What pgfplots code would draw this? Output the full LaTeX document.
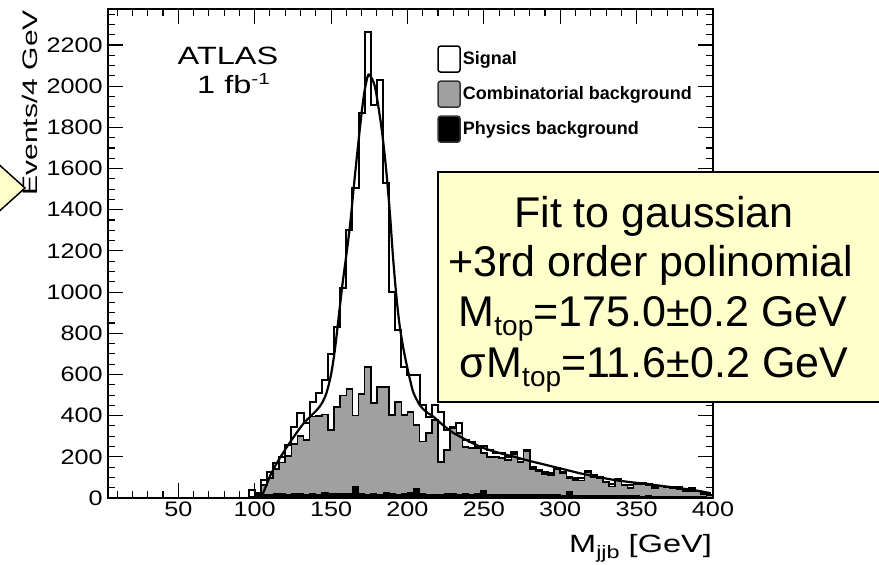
\documentclass[border=0pt]{standalone}
\usepackage{pgfplots}
\pgfplotsset{compat=1.18}
\usepackage{pgfplotstable}
\usepackage{fontspec}
\setmainfont{Liberation Sans}
\definecolor{histgray}{RGB}{160,160,160}
\definecolor{boxyellow}{RGB}{255,255,204}

\pgfplotstableread{
x T G P
92 0 0 0
96 39 8 3
100 25 15 5
104 87 62 15
108 128 98 18
112 170 140 20
116 200 172 22
120 257 205 18
124 346 262 20
128 412 300 22
132 364 282 15
136 468 395 20
140 509 398 18
144 573 405 25
148 700 330 20
152 832 443 20
156 1020 497 22
160 1302 529 20
164 1505 400 55
168 1870 505 20
172 2265 636 18
176 1909 461 20
180 2030 540 15
184 1530 538 25
188 1000 403 20
192 816 466 18
196 638 403 20
200 597 419 25
204 597 354 45
208 452 274 20
212 395 316 18
216 452 379 15
220 419 176 15
224 330 233 20
228 345 340 22
232 366 316 18
236 282 249 20
240 274 243 18
244 249 243 20
248 252 220 35
252 233 200 18
256 218 200 15
260 218 195 15
264 200 184 15
268 225 215 18
272 190 175 15
276 235 225 15
280 152 140 18
284 136 130 15
288 128 118 15
292 120 112 15
296 146 140 15
300 128 120 12
304 104 96 30
308 96 88 12
312 96 85 10
316 131 125 12
320 112 100 10
324 104 98 12
328 79 75 10
332 68 55 10
336 91 85 12
340 63 60 10
344 63 50 10
348 71 68 10
352 71 65 8
356 68 62 10
360 58 50 8
364 58 55 8
368 55 52 8
372 52 48 8
376 52 45 8
380 39 35 8
384 47 32 6
388 36 33 6
392 23 20 5
396 15 12 4
400 15 12 4
}\histdata

\begin{document}
\begin{tikzpicture}
\path[use as bounding box] (0,0) rectangle (879bp,565bp);
\begin{axis}[
  at={(108bp,67bp)}, anchor=south west,
  scale only axis, width=605bp, height=489bp,
  xmin=4, xmax=400, ymin=0, ymax=2375,
  xtick={50,100,...,400}, ytick={0,200,...,2200},
  minor xtick={10,20,...,390}, minor ytick={50,100,...,2350},
  tick align=inside, major tick length=15bp, minor tick length=7bp,
  every tick/.style={black, line width=1.1bp},
  axis line style={line width=1.4bp},
  tick label style={font=\fontsize{21bp}{22bp}\selectfont, xscale=1.2},
  yticklabel style={xshift=-1bp},
  /pgf/number format/assume math mode=true,
  /pgf/number format/1000 sep={},
  legend style={at={(rel axis cs:0.544,0.926)}, anchor=north west, draw=none, fill=none,
    inner sep=0pt, row sep=7.5bp, font=\fontsize{18bp}{20bp}\selectfont\bfseries,
    cells={anchor=west}},
]
\addplot[const plot, fill=white, draw=black, line width=2bp,
  legend image code/.code={\draw[line width=1.5bp, rounded corners=2.5bp, fill=white, draw=black] (0bp,-13bp) rectangle (22bp,13bp);}]
  table[x=x,y=T]{\histdata} \closedcycle;
\addlegendentry{Signal}
\addplot[const plot, fill=histgray, draw=black, line width=1.6bp,
  legend image code/.code={\draw[line width=1.5bp, rounded corners=2.5bp, fill=histgray, draw=black!80] (0bp,-13bp) rectangle (22bp,13bp);}]
  table[x=x,y=G]{\histdata} \closedcycle;
\addlegendentry{Combinatorial background}
\addplot[const plot, fill=black, draw=black, line width=1bp,
  legend image code/.code={\draw[line width=1.5bp, rounded corners=2.5bp, fill=black, draw=black!80] (0bp,-13bp) rectangle (22bp,13bp);}]
  table[x=x,y=P]{\histdata} \closedcycle;
\addlegendentry{Physics background}
\addplot[smooth, black, line width=2.2bp, forget plot] coordinates {
(104.5,5) (107,50) (110,105) (113,150) (117,200) (122,258) (127,312) (132,362)
(137,400) (141,430) (144,460) (147,510) (150,600) (152.5,720) (155,880)
(157.5,1040) (160,1180) (162.5,1330) (165,1520) (167.5,1700) (170,1870)
(172,1980) (174.3,2054) (176.5,2040) (178.7,1998) (181,1900) (183.5,1770)
(186,1600) (188.5,1384) (190.7,1156) (193,962) (195,832) (197.5,720) (200,630)
(202,565) (204,510) (208,452) (212,420) (217,395) (222,362) (226,338) (230,316)
(235,296) (240,276) (245,258) (250,242) (255,230) (262,215) (270,200) (280,180)
(291,160) (302,140) (313,120) (324,103) (335,88) (346,77) (357,68) (368,57)
(379,47) (390,35) (398.6,23)};
\end{axis}
% axis texts
\node[rotate=90, anchor=base east, inner sep=0pt] at (37bp,555bp)
  {\scalebox{1.43}[1]{\fontsize{21bp}{21bp}\selectfont Events/4 GeV}};
\node[anchor=base east, inner sep=0pt] at (712bp,13bp)
  {\scalebox{1.3}[1]{\fontsize{25bp}{25bp}\selectfont M\raisebox{-6bp}{\fontsize{18bp}{18bp}\selectfont jjb} [GeV]}};
\node[anchor=base, inner sep=0pt] at (228bp,500bp)
  {\scalebox{1.3}[1]{\fontsize{25bp}{25bp}\selectfont ATLAS}};
\node[anchor=base west, inner sep=0pt] at (197bp,471bp)
  {\scalebox{1.3}[1]{\fontsize{25bp}{25bp}\selectfont 1 fb\raisebox{9bp}{\fontsize{16bp}{16bp}\selectfont -1}}};
% callout pointer at left edge
\draw[fill=boxyellow, line width=1.5bp] (-5bp,404bp) -- (25bp,377bp) -- (-5bp,350bp);
% yellow box
\draw[fill=boxyellow, line width=2.2bp] (438bp,163bp) rectangle (885bp,393bp);
\begin{scope}[every node/.style={anchor=base, inner sep=0pt, font=\fontsize{43bp}{50bp}\selectfont}]
\node at (654bp,337bp) {Fit to gaussian};
\node at (651bp,288bp) {+3rd order polinomial};
\node at (653bp,238bp) {M\raisebox{-9bp}{\fontsize{28bp}{28bp}\selectfont top}=175.0±0.2 GeV};
\node at (654bp,187bp) {σM\raisebox{-9bp}{\fontsize{28bp}{28bp}\selectfont top}=11.6±0.2 GeV};
\end{scope}
\end{tikzpicture}
\end{document}
